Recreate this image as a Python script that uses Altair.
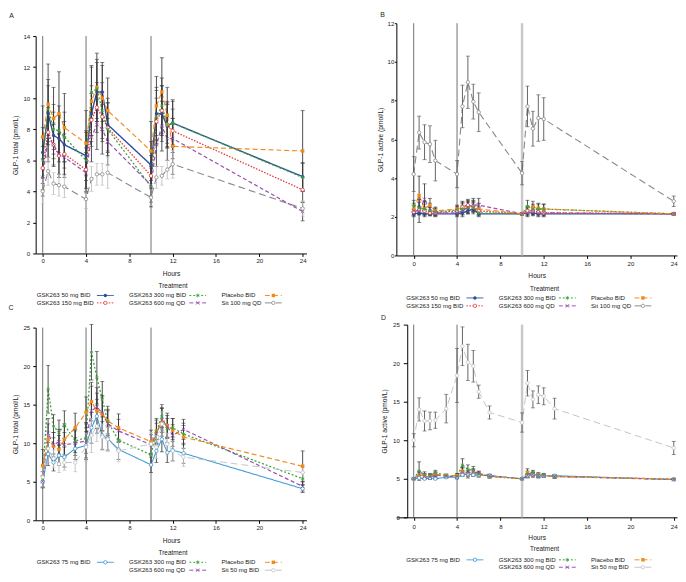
import altair as alt
import pandas as pd

FONT = "Liberation Sans"

# ---------------- data ----------------
T_AB = [0, 0.5, 1, 1.5, 2, 4, 4.5, 5, 5.5, 6, 10, 10.5, 11, 11.5, 12, 24]
T_CD = [0, 0.5, 1, 1.5, 2, 3, 4, 4.5, 5, 5.5, 6, 7, 10, 10.5, 11, 11.5, 12, 13, 24]
X_TICKS = [0, 4, 8, 12, 16, 20, 24]
DOSE_TIMES = [0, 4, 10]

S50 = "GSK263 50 mg BID"
S150 = "GSK263 150 mg BID"
S300 = "GSK263 300 mg BID"
S600 = "GSK263 600 mg QD"
SPBO = "Placebo BID"
SSIT100 = "Sit 100 mg QD"
S75 = "GSK263 75 mg BID"
SSIT50 = "Sit 50 mg BID"

# Panel A: GLP-1 total (pmol/L), means and SE
A_50 = [6.5, 9.0, 7.6, 7.4, 7.0, 6.3, 9.0, 10.4, 10.4, 8.3, 5.7, 9.0, 9.0, 8.2, 8.4, 4.95]
A_150 = [5.5, 7.8, 7.0, 6.3, 6.4, 5.4, 8.6, 9.4, 8.8, 8.1, 5.0, 8.5, 9.2, 8.3, 7.9, 4.1]
A_300 = [6.0, 9.3, 8.0, 7.9, 7.5, 6.0, 10.4, 10.6, 9.2, 8.0, 4.3, 8.8, 9.5, 8.3, 8.4, 4.9]
A_600 = [4.9, 7.5, 7.0, 6.4, 6.2, 5.2, 7.5, 8.3, 8.0, 7.2, 4.4, 7.0, 8.2, 7.4, 7.4, 2.7]
A_PBO = [7.5, 9.6, 8.7, 9.0, 8.1, 7.1, 9.8, 10.7, 10.0, 9.2, 6.6, 9.5, 10.4, 8.9, 6.9, 6.6]
A_SIT = [4.0, 5.3, 4.5, 4.4, 4.3, 3.5, 4.8, 5.1, 5.1, 5.2, 3.6, 4.9, 5.0, 5.4, 5.75, 2.9]
A_50_SE = [1.6, 1.8, 1.5, 1.5, 1.5, 1.6, 1.8, 1.9, 1.9, 1.7, 1.5, 1.7, 1.8, 1.4, 1.5, 0.9]
A_150_SE = [1.4, 1.6, 1.4, 1.4, 1.3, 1.4, 1.7, 1.6, 1.6, 1.6, 1.3, 1.5, 1.6, 1.4, 1.4, 0.8]
A_300_SE = [1.5, 1.9, 1.6, 1.6, 1.6, 1.8, 1.7, 1.9, 1.8, 1.7, 1.3, 1.7, 1.8, 1.5, 1.4, 0.9]
A_600_SE = [1.2, 1.6, 1.3, 1.3, 1.3, 1.3, 1.6, 1.6, 1.6, 1.5, 1.1, 1.4, 1.6, 1.4, 1.3, 0.6]
A_PBO_SE = [2.0, 2.6, 2.0, 2.7, 2.2, 2.1, 2.2, 2.2, 2.1, 2.1, 1.9, 1.9, 2.2, 1.8, 1.8, 2.6]
A_SIT_SE = [0.8, 0.9, 0.7, 0.7, 0.7, 0.6, 0.8, 0.7, 0.7, 1.0, 0.5, 0.7, 0.6, 0.6, 0.9, 0.5]

# Panel B: GLP-1 active (pmol/L)
B_50 = [2.15, 2.2, 2.15, 2.15, 2.15, 2.15, 2.2, 2.3, 2.4, 2.15, 2.15, 2.2, 2.2, 2.15, 2.15, 2.15]
B_150 = [2.25, 2.35, 2.3, 2.2, 2.2, 2.3, 2.5, 2.6, 2.55, 2.3, 2.15, 2.3, 2.3, 2.25, 2.2, 2.15]
B_300 = [2.55, 2.45, 2.4, 2.3, 2.25, 2.35, 2.4, 2.45, 2.5, 2.2, 2.15, 2.55, 2.4, 2.4, 2.4, 2.15]
B_600 = [2.3, 2.3, 2.9, 2.4, 2.2, 2.2, 2.3, 2.5, 2.6, 2.6, 2.15, 2.2, 2.3, 2.2, 2.2, 2.15]
B_PBO = [2.4, 3.1, 2.4, 2.6, 2.3, 2.4, 2.5, 2.55, 2.5, 2.4, 2.15, 2.3, 2.5, 2.45, 2.4, 2.15]
B_SIT = [4.2, 6.35, 5.85, 5.75, 4.9, 4.2, 7.7, 8.95, 7.95, 7.4, 4.25, 7.7, 6.55, 7.1, 7.05, 2.8]
B_50_SE = [0.1, 0.1, 0.1, 0.1, 0.1, 0.1, 0.1, 0.15, 0.15, 0.1, 0.05, 0.1, 0.1, 0.1, 0.1, 0.05]
B_150_SE = [0.15, 0.2, 0.2, 0.15, 0.15, 0.2, 0.25, 0.25, 0.25, 0.2, 0.05, 0.2, 0.2, 0.15, 0.15, 0.05]
B_300_SE = [0.3, 0.3, 0.25, 0.2, 0.2, 0.2, 0.3, 0.3, 0.25, 0.2, 0.05, 0.3, 0.25, 0.25, 0.25, 0.05]
B_600_SE = [0.3, 0.6, 0.8, 0.3, 0.2, 0.2, 0.3, 0.3, 0.35, 0.35, 0.05, 0.2, 0.25, 0.2, 0.2, 0.05]
B_PBO_SE = [0.3, 1.0, 0.4, 0.35, 0.2, 0.2, 0.3, 0.35, 0.35, 0.3, 0.05, 0.25, 0.3, 0.25, 0.25, 0.05]
B_SIT_SE = [0.9, 0.85, 0.9, 0.95, 1.05, 0.7, 1.1, 1.35, 0.9, 1.0, 0.6, 1.05, 0.9, 1.2, 1.1, 0.27]

# Panel C: GLP-1 total (pmol/L)
C_75 = [5.0, 8.6, 7.5, 8.4, 8.2, 9.3, 9.7, 12.0, 13.5, 11.0, 10.6, 9.2, 7.2, 9.0, 10.5, 8.8, 9.1, 8.7, 4.1]
C_300 = [5.3, 17.0, 12.2, 11.4, 12.4, 10.3, 10.7, 21.8, 18.5, 15.7, 12.8, 10.4, 8.5, 11.5, 13.5, 11.9, 12.0, 11.2, 5.4]
C_600 = [5.0, 11.3, 9.8, 10.2, 9.8, 10.0, 10.3, 14.2, 14.7, 13.9, 12.5, 11.6, 9.8, 11.2, 13.0, 12.2, 11.0, 11.8, 4.4]
C_PBO = [7.1, 10.5, 9.6, 9.2, 10.5, 12.0, 14.0, 15.4, 14.2, 13.8, 12.9, 12.0, 10.2, 11.6, 12.7, 12.3, 11.7, 10.8, 7.0]
C_SIT = [5.6, 9.3, 8.0, 7.3, 7.5, 7.5, 9.5, 11.0, 12.2, 10.8, 10.5, 9.0, 9.9, 9.5, 12.5, 9.9, 9.0, 8.2, 6.2]
C_75_SE = [0.8, 1.5, 1.1, 1.3, 1.3, 1.4, 1.8, 2.0, 2.2, 1.8, 1.5, 1.3, 1.0, 1.5, 1.6, 1.3, 1.4, 1.3, 0.5]
C_300_SE = [1.0, 3.1, 1.5, 1.6, 1.8, 1.5, 2.0, 3.6, 3.4, 2.3, 1.6, 1.4, 1.4, 1.5, 1.5, 1.3, 1.2, 1.4, 0.8]
C_600_SE = [0.7, 1.9, 1.6, 1.6, 1.6, 1.6, 2.2, 3.2, 2.5, 2.3, 1.7, 1.5, 1.3, 1.4, 1.6, 1.4, 1.4, 1.3, 0.6]
C_PBO_SE = [2.1, 2.0, 1.8, 1.8, 2.0, 1.9, 2.0, 2.5, 2.3, 2.2, 1.9, 1.8, 1.5, 1.6, 1.8, 1.6, 1.5, 1.5, 2.0]
C_SIT_SE = [1.3, 1.8, 1.2, 1.1, 1.0, 1.2, 1.8, 2.2, 2.0, 1.7, 1.6, 1.4, 1.5, 1.5, 1.6, 1.4, 1.3, 1.2, 1.0]

# Panel D: GLP-1 active (pmol/L)
D_75 = [5.0, 5.1, 5.0, 5.1, 5.0, 5.2, 5.2, 5.5, 5.6, 5.5, 5.5, 5.4, 5.0, 5.4, 5.6, 5.4, 5.4, 5.4, 4.9]
D_300 = [5.0, 6.0, 5.5, 5.4, 5.8, 5.4, 5.3, 6.8, 6.2, 6.1, 5.6, 5.3, 5.0, 5.6, 5.8, 5.4, 5.5, 5.3, 4.95]
D_600 = [5.0, 5.6, 5.3, 5.2, 5.5, 5.3, 5.3, 5.9, 5.7, 5.9, 5.7, 5.4, 5.0, 5.4, 5.6, 5.4, 5.4, 5.3, 4.9]
D_PBO = [5.0, 5.5, 5.4, 5.3, 5.6, 5.4, 5.4, 6.0, 5.5, 5.8, 5.5, 5.3, 5.0, 5.8, 5.5, 5.5, 5.4, 5.3, 4.95]
D_SIT = [10.0, 14.0, 12.5, 12.5, 12.6, 14.1, 18.4, 22.2, 20.1, 19.6, 16.3, 13.6, 12.3, 17.4, 15.3, 15.9, 15.7, 14.1, 9.0]
D_75_SE = [0.05, 0.1, 0.1, 0.1, 0.1, 0.1, 0.1, 0.2, 0.2, 0.2, 0.1, 0.1, 0.05, 0.2, 0.2, 0.1, 0.1, 0.1, 0.05]
D_300_SE = [0.1, 1.2, 0.4, 0.3, 0.3, 0.2, 0.3, 0.8, 0.6, 0.5, 0.3, 0.2, 0.1, 0.4, 0.3, 0.3, 0.2, 0.2, 0.05]
D_600_SE = [0.1, 0.4, 0.3, 0.3, 0.3, 0.2, 0.3, 0.5, 0.4, 0.4, 0.3, 0.2, 0.1, 0.3, 0.3, 0.2, 0.2, 0.2, 0.05]
D_PBO_SE = [0.1, 0.4, 0.3, 0.3, 0.3, 0.2, 0.3, 0.5, 0.4, 0.4, 0.3, 0.2, 0.1, 0.5, 0.3, 0.3, 0.2, 0.2, 0.05]
D_SIT_SE = [0.85, 1.5, 1.3, 1.15, 1.05, 1.85, 3.5, 2.5, 2.35, 2.05, 0.85, 0.85, 1.25, 1.65, 1.1, 1.15, 1.1, 1.35, 0.85]

LEG_AB = [(S50, 0, 0), (S150, 0, 1), (S300, 1, 0), (S600, 1, 1), (SPBO, 2, 0), (SSIT100, 2, 1)]
LEG_CD = [(S75, 0, 0), (S300, 1, 0), (S600, 1, 1), (SPBO, 2, 0), (SSIT50, 2, 1)]

# ---------------- styles ----------------
XPATH = "M-1,-1L1,1M-1,1L1,-1"
ASTER = "M0,-1.1L0,1.1M-0.95,-0.55L0.95,0.55M-0.95,0.55L0.95,-0.55"
STYLE = {
    S50: ("#2d4e9c", [1, 0], "circle", True, 1.4),
    S150: ("#e03c3c", [1.5, 1.5], "circle", False, 1.0),
    S300: ("#3aa53a", [2, 2], ASTER, False, 1.0),
    S600: ("#9b50b2", [4, 2.5], XPATH, False, 1.0),
    SPBO: ("#f28a1a", [5, 3], "square", True, 1.0),
    SSIT100: ("#8a8a8a", [7, 4], "circle", False, 1.0),
    S75: ("#3d9ad6", [1, 0], "circle", False, 1.3),
    SSIT50: ("#c4c4c4", [7, 4], "circle", False, 1.0),
}
ALL = list(STYLE.keys())
COLOR = alt.Scale(domain=ALL, range=[STYLE[s][0] for s in ALL])
DASH = alt.Scale(domain=ALL, range=[STYLE[s][1] for s in ALL])
SHAPE = alt.Scale(domain=ALL, range=[STYLE[s][2] for s in ALL])
WIDTH = alt.Scale(domain=ALL, range=[STYLE[s][4] for s in ALL])
FILLED = [s for s in ALL if STYLE[s][3]]
OPEN = [s for s in ALL if not STYLE[s][3]]
LEG_COL_W = 93.5
TXT = "#222222"
SMALL = 6.2
MSIZE = 12


def build_df(times, names, means, ses):
    rows = []
    for n in names:
        for t, m, e in zip(times, means[n], ses[n]):
            rows.append({"series": n, "t": t, "m": m, "lo": round(m - e, 3), "hi": round(m + e, 3)})
    return pd.DataFrame(rows)


def plot_chart(times, names, means, ses, ydom, yticks, ytitle, w, h, xdom,
               ytick, ylpad, ytpad, yoff, xlpad, xtpad, sit_err_color, light10):
    df = build_df(times, names, means, ses)
    xs = alt.Scale(domain=xdom, nice=False, zero=False)
    ys = alt.Scale(domain=ydom, nice=False, zero=False)
    xax = alt.Axis(values=X_TICKS, title="Hours", tickSize=3, labelPadding=xlpad, titlePadding=xtpad)
    yax = alt.Axis(values=yticks, title=ytitle, tickSize=ytick, labelPadding=ylpad,
                   titlePadding=ytpad, offset=yoff)
    X = alt.X("t:Q", scale=xs, axis=xax)
    Y = alt.Y("m:Q", scale=ys, axis=yax)
    base = alt.Chart(df)

    dark = [v for v in DOSE_TIMES if not (light10 and v == 10)]
    layers = [alt.Chart(pd.DataFrame({"t": dark})).mark_rule(color="#707070", strokeWidth=1).encode(x=X)]
    if light10:
        layers.append(alt.Chart(pd.DataFrame({"t": [10]})).mark_rule(color="#c9c9c9", strokeWidth=2.5).encode(x=X))

    layers.append(base.mark_line().encode(
        x=X, y=Y,
        color=alt.Color("series:N", scale=COLOR, legend=None),
        strokeDash=alt.StrokeDash("series:N", scale=DASH, legend=None),
        strokeWidth=alt.StrokeWidth("series:N", scale=WIDTH, legend=None),
    ))

    sits = [n for n in names if n.startswith("Sit")]
    gsk = [n for n in names if not n.startswith("Sit")]
    for group, col in ((gsk, "#3a3a3a"), (sits, sit_err_color)):
        eb = base.transform_filter(alt.FieldOneOfPredicate(field="series", oneOf=group))
        layers.append(eb.mark_rule(color=col, strokeWidth=0.9).encode(
            x=X, y=alt.Y("lo:Q", scale=ys, axis=yax), y2="hi:Q"))
        layers.append(eb.transform_fold(["lo", "hi"], as_=["k", "v"]).mark_tick(
            color=col, orient="horizontal", size=4, thickness=0.9).encode(
            x=X, y=alt.Y("v:Q", scale=ys, axis=yax)))

    f = [n for n in names if n in FILLED]
    o = [n for n in names if n in OPEN]
    enc = dict(x=X, y=Y, color=alt.Color("series:N", scale=COLOR, legend=None),
               shape=alt.Shape("series:N", scale=SHAPE, legend=None))
    if f:
        layers.append(base.transform_filter(alt.FieldOneOfPredicate(field="series", oneOf=f))
                      .mark_point(filled=True, size=MSIZE, opacity=1).encode(**enc))
    if o:
        layers.append(base.transform_filter(alt.FieldOneOfPredicate(field="series", oneOf=o))
                      .mark_point(filled=False, fill="white", size=MSIZE, strokeWidth=0.8, opacity=1).encode(**enc))
    return alt.layer(*layers).properties(width=w, height=h)


def letter_layer(letter, lx, ly):
    return alt.Chart(pd.DataFrame({"letter": [letter]})).mark_text(
        fontSize=7, font=FONT, color=TXT, align="center", baseline="alphabetic"
    ).encode(text="letter:N", x=alt.value(lx), y=alt.value(ly))


def head_chart(letter, lx, ly, w, h):
    return letter_layer(letter, lx, ly).properties(width=w, height=h)


def legend_chart(entries, w, h, x0, treat_x, treat_y, row0, rowgap, letter=None):
    ldf = pd.DataFrame(entries, columns=["series", "col", "row"])
    lb = (alt.Chart(ldf)
          .transform_calculate(xl=f"{x0} + datum.col * {LEG_COL_W}",
                               yl=f"{row0} + datum.row * {rowgap}")
          .transform_calculate(xs="datum.xl + (datum.col == 2 ? 44 : 61)")
          .transform_calculate(xe="datum.xs + 17", xm="datum.xs + 8.5"))
    LX = alt.Scale(domain=[0, w], nice=False, zero=False)
    LY = alt.Scale(domain=[0, h], reverse=True, nice=False, zero=False)
    ly = alt.Y("yl:Q", scale=LY, axis=None)
    lcol = alt.Color("series:N", scale=COLOR, legend=None)
    lshape = alt.Shape("series:N", scale=SHAPE, legend=None)
    f = [e[0] for e in entries if e[0] in FILLED]
    o = [e[0] for e in entries if e[0] in OPEN]
    layers = [
        lb.mark_text(align="left", baseline="middle", fontSize=SMALL, font=FONT, color=TXT).encode(
            x=alt.X("xl:Q", scale=LX, axis=None), y=ly, text="series:N"),
        lb.mark_rule(strokeWidth=1).encode(
            x=alt.X("xs:Q", scale=LX, axis=None), x2="xe:Q", y=ly, color=lcol,
            strokeDash=alt.StrokeDash("series:N", scale=DASH, legend=None)),
    ]
    if f:
        layers.append(lb.transform_filter(alt.FieldOneOfPredicate(field="series", oneOf=f))
                      .mark_point(filled=True, size=MSIZE, opacity=1).encode(
            x=alt.X("xm:Q", scale=LX, axis=None), y=ly, color=lcol, shape=lshape))
    if o:
        layers.append(lb.transform_filter(alt.FieldOneOfPredicate(field="series", oneOf=o))
                      .mark_point(filled=False, fill="white", size=MSIZE, strokeWidth=0.8, opacity=1).encode(
            x=alt.X("xm:Q", scale=LX, axis=None), y=ly, color=lcol, shape=lshape))
    layers.append(alt.Chart(pd.DataFrame({"title": ["Treatment"]})).mark_text(
        fontSize=6.5, font=FONT, color=TXT, align="center", baseline="middle"
    ).encode(text="title:N", x=alt.value(treat_x), y=alt.value(treat_y)))
    if letter:
        layers.append(letter_layer(*letter))
    return alt.layer(*layers).properties(width=w, height=h)


W_L, W_R = 274, 284
XD_L = [-0.65, 24.35]
XD_R = [-1.6, 24.3]

plotA = plot_chart(T_AB, [S50, S150, S300, S600, SPBO, SSIT100],
                   {S50: A_50, S150: A_150, S300: A_300, S600: A_600, SPBO: A_PBO, SSIT100: A_SIT},
                   {S50: A_50_SE, S150: A_150_SE, S300: A_300_SE, S600: A_600_SE, SPBO: A_PBO_SE, SSIT100: A_SIT_SE},
                   [0, 14], [0, 2, 4, 6, 8, 10, 12, 14], "GLP-1 total (pmol/L)", W_L, 220, XD_L,
                   3, 3, 5, 0, 1.5, 6.5, "#bdbdbd", False)
plotB = plot_chart(T_AB, [S50, S150, S300, S600, SPBO, SSIT100],
                   {S50: B_50, S150: B_150, S300: B_300, S600: B_600, SPBO: B_PBO, SSIT100: B_SIT},
                   {S50: B_50_SE, S150: B_150_SE, S300: B_300_SE, S600: B_600_SE, SPBO: B_PBO_SE, SSIT100: B_SIT_SE},
                   [0, 12], [0, 2, 4, 6, 8, 10, 12], "GLP-1 active (pmol/L)", W_R, 235, XD_R,
                   2, 0.5, 3.5, 0, 2.5, 6, "#555555", True)
plotC = plot_chart(T_CD, [S75, S300, S600, SPBO, SSIT50],
                   {S75: C_75, S300: C_300, S600: C_600, SPBO: C_PBO, SSIT50: C_SIT},
                   {S75: C_75_SE, S300: C_300_SE, S600: C_600_SE, SPBO: C_PBO_SE, SSIT50: C_SIT_SE},
                   [0, 25], [0, 5, 10, 15, 20, 25], "GLP-1 total (pmol/L)", W_L, 195, XD_L,
                   3, 3, 5, 0, 1, 7.5, "#bdbdbd", False)
plotD = plot_chart(T_CD, [S75, S300, S600, SPBO, SSIT50],
                   {S75: D_75, S300: D_300, S600: D_600, SPBO: D_PBO, SSIT50: D_SIT},
                   {S75: D_75_SE, S300: D_300_SE, S600: D_600_SE, SPBO: D_PBO_SE, SSIT50: D_SIT_SE},
                   [0, 25], [0, 5, 10, 15, 20, 25], "GLP-1 active (pmol/L)", W_R, 195, XD_R,
                   4, 4, 5.5, -11, 3, 5, "#555555", True)

headA = head_chart("A", -24.5, 5.5, W_L, 24)
headB = head_chart("B", -14, 5, W_R, 11)
legA = legend_chart(LEG_AB, W_L, 75, 1, 139, 33, 42.5, 7.5, ("C", -25, 57))
legB = legend_chart(LEG_AB, W_R, 70, 10, 150, 33.5, 43, 8, ("D", -13, 65))
legC = legend_chart(LEG_CD, W_L, 55, 1, 139, 33.5, 42.5, 8)
legD = legend_chart(LEG_CD, W_R, 55, 10, 150, 32.5, 43, 7.5)

colL = alt.vconcat(headA, plotA, legA, plotC, legC, spacing=0, bounds="flush")
colR = alt.vconcat(headB, plotB, legB, plotD, legD, spacing=0, bounds="flush")
chart = alt.hconcat(colL, colR, spacing=72).properties(padding=0).configure_view(
    stroke=None
).configure_axis(
    labelFont=FONT, titleFont=FONT, labelFontSize=SMALL, titleFontSize=6.7,
    titleFontWeight="normal", domainColor="#000", tickColor="#000",
    labelColor=TXT, titleColor=TXT, grid=False, domainWidth=1, tickWidth=1,
)

chart.save("out.html", embed_options={"renderer": "svg", "actions": False})
